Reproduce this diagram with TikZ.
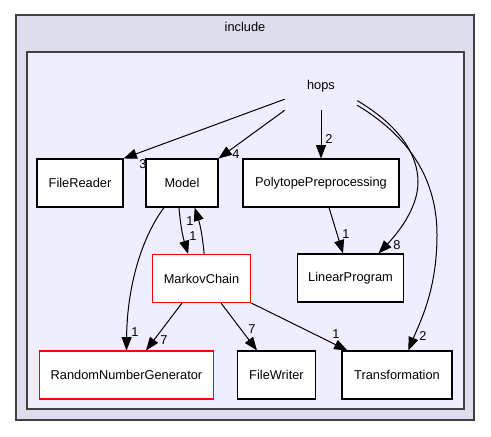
\documentclass[tikz,border=0pt]{standalone}
\usepackage{fontspec}
\setmainfont{Liberation Sans}
\usetikzlibrary{arrows.meta}

\definecolor{outerfill}{HTML}{DDDDEE}
\definecolor{innerfill}{HTML}{EEEEFF}
\definecolor{framegray}{HTML}{404040}

\tikzset{
  dirbox/.style={draw=black, fill=white, line width=0.8pt, minimum height=36pt, inner sep=0pt},
  redbox/.style={dirbox, draw=red},
  dep/.style={line width=0.75pt, -{Stealth[length=10pt, width=7.5pt, inset=0pt]}},
  num/.style={inner sep=0pt}
}

\begin{document}
\begin{tikzpicture}[x=0.75pt, y=-0.75pt, font=\fontsize{9.6}{11}\selectfont]

   \useasboundingbox (0,0) rectangle (491,436);

   % 枠
   \draw [line width=1.1pt, draw=framegray, fill=outerfill](16,15) rectangle (474,420);
   \node (include) at (245,27) {include};
   \draw [line width=1.1pt, draw=framegray, fill=innerfill](27,52) rectangle (464,409);
   \node [minimum width=54pt, minimum height=36pt, inner sep=0pt] (hops) at (321,86) {hops};

   % ディレクトリ
   \node [dirbox, minimum width=64.5pt] (fread) at (80,183) {FileReader};
   \node [dirbox, minimum width=54pt] (model) at (182,183) {Model};
   \node [dirbox, minimum width=117pt] (polyprep) at (321,183) {PolytopePreprocessing};
   \node [redbox, minimum width=74pt] (markov) at (201.5,278.5) {MarkovChain};
   \node [dirbox, minimum width=80pt] (linprog) at (350.5,278) {LinearProgram};
   \node [redbox, minimum width=131pt] (rng) at (126.5,375) {RandomNumberGenerator};
   \node [dirbox, minimum width=59pt] (fwrite) at (276.5,375) {FileWriter};
   \node [dirbox, minimum width=82.5pt] (transf) at (397,375) {Transformation};

   % hops から
   \draw [dep](hops.200)--(fread.north east);
   \node [num] (n3) at (143,164) {3};
   \draw [dep](hops.south west)--(model.north east);
   \node [num] (n4) at (236,154) {4};
   \draw [dep](hops.south)--(polyprep.north);
   \node [num] (n2a) at (329,139) {2};
   \draw [dep](hops.-22) .. controls (400,126) and (418,155) .. (418,182)
      .. controls (418,210) and (395,236) .. ([xshift=21pt]linprog.north);
   \node [num] (n8) at (397,245) {8};
   \draw [dep](hops.-28) .. controls (415,140) and (437,185) .. (437,235)
      .. controls (437,290) and (420,322) .. ([xshift=8.5pt]transf.north);
   \node [num] (n2b) at (423,336) {2};

   % その他
   \draw [dep]([xshift=6pt]polyprep.south)--([xshift=-5.6pt]linprog.north);
   \node [num] (n1a) at (346,234) {1};
   \draw [dep]([xshift=-2.3pt]model.south) to[bend right=6] ([xshift=-10pt]markov.north);
   \node [num] (n1b) at (193,236) {1};
   \draw [dep]([xshift=2pt]markov.north) to[bend right=6] ([xshift=9.5pt]model.south);
   \node [num] (n1c) at (190,221) {1};
   \draw [dep]([xshift=-13.5pt]model.south) .. controls (140,240) and (127,290) .. (rng.north);
   \node [num] (n1d) at (135,332) {1};
   \draw [dep]([xshift=-14.6pt]markov.south)--([xshift=14.6pt]rng.north);
   \node [num] (n7a) at (164,340) {7};
   \draw [dep]([xshift=14.6pt]markov.south)--([xshift=-14.6pt]fwrite.north);
   \node [num] (n7b) at (252,329) {7};
   \draw [dep](markov.south east)--([xshift=4.5pt]transf.north west);
   \node [num] (n1e) at (336,334) {1};

\end{tikzpicture}
\end{document}
